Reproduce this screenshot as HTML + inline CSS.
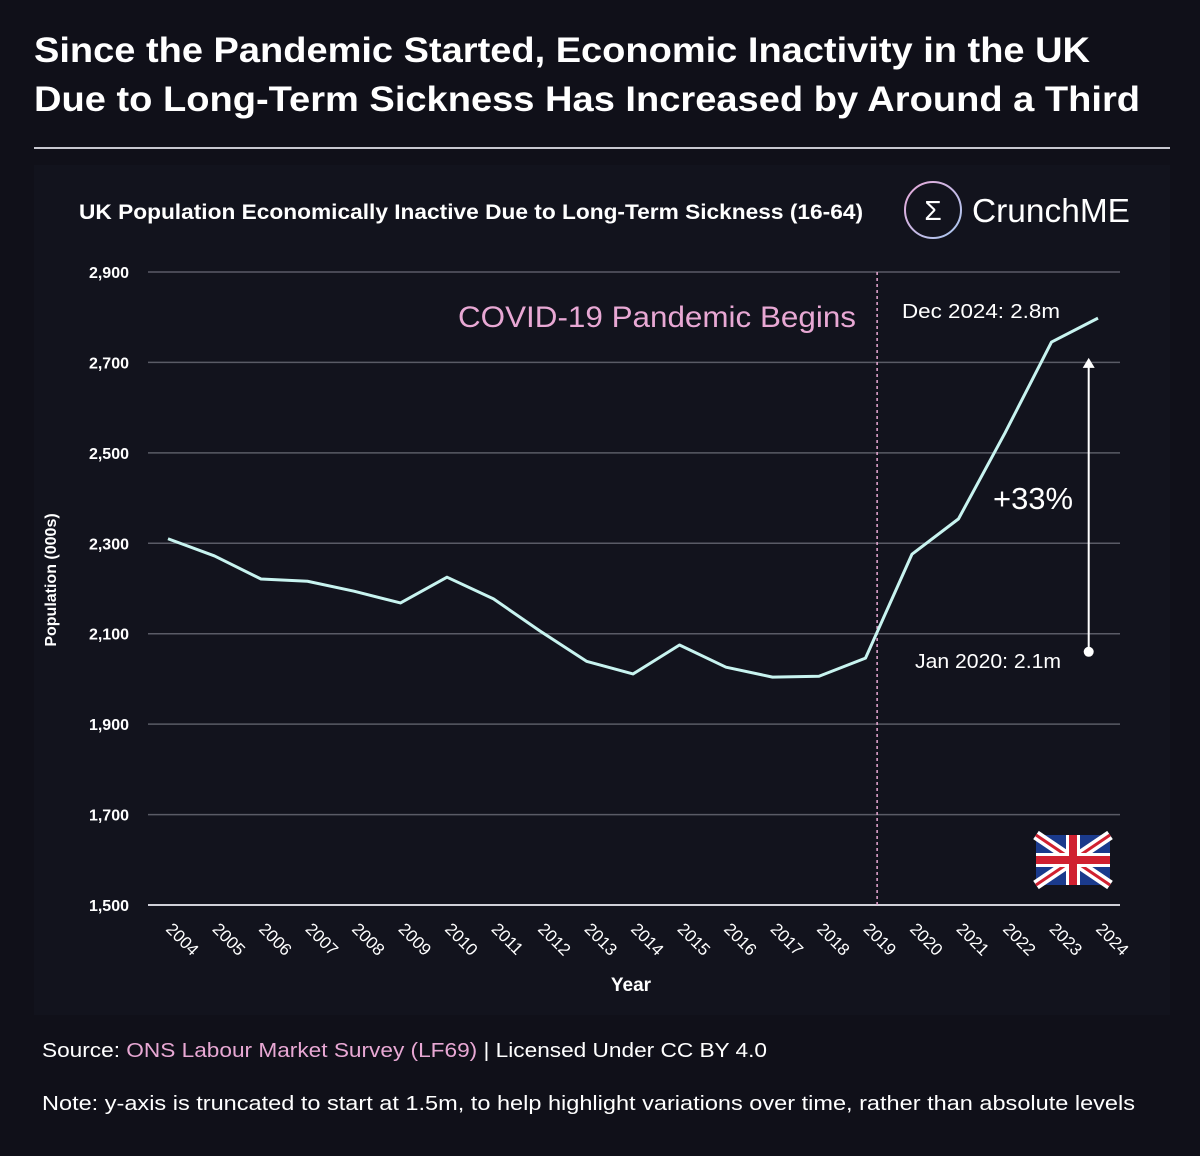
<!DOCTYPE html>
<html><head><meta charset="utf-8">
<style>
body{margin:0;background:#101019;width:1200px;height:1151px;overflow:hidden;font-family:"Liberation Sans","DejaVu Sans",sans-serif;}
</style></head>
<body>
<svg id="chart" width="1200" height="1151" viewBox="0 0 1200 1151" xmlns="http://www.w3.org/2000/svg">
<rect x="0" y="0" width="1200" height="1151" fill="#101019"/>
<rect x="34" y="165" width="1136" height="850" fill="#12131d"/>
<text x="34" y="62" fill="#ffffff" font-size="35" font-weight="bold" textLength="1056" lengthAdjust="spacingAndGlyphs">Since the Pandemic Started, Economic Inactivity in the UK</text>
<text x="34" y="111" fill="#ffffff" font-size="35" font-weight="bold" textLength="1106" lengthAdjust="spacingAndGlyphs">Due to Long-Term Sickness Has Increased by Around a Third</text>
<line x1="34" y1="148" x2="1170" y2="148" stroke="#c8c8d0" stroke-width="2"/>
<text x="79" y="219" fill="#ffffff" font-size="21" font-weight="bold" textLength="784" lengthAdjust="spacingAndGlyphs">UK Population Economically Inactive Due to Long-Term Sickness (16-64)</text>
<g>
<defs><linearGradient id="lg" x1="0" y1="0" x2="1" y2="1"><stop offset="0" stop-color="#e8a8d8"/><stop offset="1" stop-color="#a8c8f0"/></linearGradient></defs>
<circle cx="933" cy="210" r="28" fill="none" stroke="url(#lg)" stroke-width="2"/>
<text x="933" y="220" fill="#ffffff" font-size="28" text-anchor="middle">Σ</text>
<text x="972" y="222" fill="#ffffff" font-size="33" textLength="158" lengthAdjust="spacingAndGlyphs">CrunchME</text>
</g>
<g id="grid"></g>
<g id="marks"></g>
<text x="631" y="991" fill="#ffffff" font-size="19" font-weight="bold" text-anchor="middle">Year</text>
<text transform="translate(56,580) rotate(-90)" fill="#ffffff" font-size="16" font-weight="bold" text-anchor="middle">Population (000s)</text>
<text x="458" y="327" fill="#e8a8d4" font-size="30" textLength="398" lengthAdjust="spacingAndGlyphs">COVID-19 Pandemic Begins</text>
<text x="902" y="318" fill="#ffffff" font-size="20" textLength="158" lengthAdjust="spacingAndGlyphs">Dec 2024: 2.8m</text>
<text x="915" y="668" fill="#ffffff" font-size="20" textLength="146" lengthAdjust="spacingAndGlyphs">Jan 2020: 2.1m</text>
<text x="993" y="509" fill="#ffffff" font-size="31" textLength="80" lengthAdjust="spacingAndGlyphs">+33%</text>
<g transform="translate(1036,835)">
<rect width="74" height="50" fill="#1a3a8c"/>
<path d="M0 0L74 50M74 0L0 50" stroke="#fff" stroke-width="10"/>
<path d="M0 0L74 50M74 0L0 50" stroke="#d02030" stroke-width="3"/>
<path d="M37 0V50M0 25H74" stroke="#fff" stroke-width="14"/>
<path d="M37 0V50M0 25H74" stroke="#d02030" stroke-width="8"/>
</g>
<text x="42" y="1057" fill="#ffffff" font-size="20" textLength="725" lengthAdjust="spacingAndGlyphs">Source: <tspan fill="#e8a8d4">ONS Labour Market Survey (LF69)</tspan> | Licensed Under CC BY 4.0</text>
<text x="42" y="1110" fill="#ffffff" font-size="20" textLength="1093" lengthAdjust="spacingAndGlyphs">Note: y-axis is truncated to start at 1.5m, to help highlight variations over time, rather than absolute levels</text>
</svg>
<script>
const years=[2004,2005,2006,2007,2008,2009,2010,2011,2012,2013,2014,2015,2016,2017,2018,2019,2020,2021,2022,2023,2024];
const values=[2310,2272,2221,2216,2194,2168,2225,2177,2106,2039,2011,2075,2026,2004,2006,2046,2276,2354,2544,2745,2798];
const yTicks=[1500,1700,1900,2100,2300,2500,2700,2900];
const yTickLabels=["1,500","1,700","1,900","2,100","2,300","2,500","2,700","2,900"];
const covidYear=2019.25;
const arrowFrom=2060, arrowTo=2710, arrowYear=2023.8;
const NS="http://www.w3.org/2000/svg";
function X(yr){return 168+(yr-2004)*46.5;}
function Y(v){return 905-(v-1500)*(633/1400);}
function mk(t,a,p){const e=document.createElementNS(NS,t);for(const k in a)e.setAttribute(k,a[k]);p.appendChild(e);return e;}
const grid=document.getElementById('grid'),marks=document.getElementById('marks');
yTicks.forEach((v,i)=>{
 const l=mk('line',{x1:148,x2:1120,y1:Y(v),y2:Y(v),stroke:i==0?'#d0d0d8':'#5a5b66','stroke-width':i==0?2:1.5},grid);
 
 
 const t=mk('text',{x:129,y:Y(v)+6,fill:'#fff','font-size':16,'font-weight':'bold','text-anchor':'end'},grid);
 t.textContent=yTickLabels[i];
 
 
});
years.forEach(yr=>{
 const t=mk('text',{transform:`translate(${X(yr)-3},930) rotate(45)`,fill:'#fff','font-size':17},grid);
 t.textContent=yr;
 
 
});
const vl=mk('line',{x1:X(covidYear),x2:X(covidYear),y1:272,y2:905,stroke:'#e8a8d4','stroke-width':1.5,'stroke-dasharray':'3,3'},marks);


const pl=mk('polyline',{points:years.map((y,i)=>X(y)+','+Y(values[i])).join(' '),fill:'none',stroke:'#c8f4f0','stroke-width':3,'stroke-linejoin':'round'},marks);


const ax=X(arrowYear);
const al=mk('line',{x1:ax,x2:ax,y1:Y(arrowFrom),y2:Y(arrowTo)+6,stroke:'#fff','stroke-width':2},marks);


const ah=mk('path',{d:`M${ax-6} ${Y(arrowTo)+10}L${ax} ${Y(arrowTo)}L${ax+6} ${Y(arrowTo)+10}Z`,fill:'#fff'},marks);


const dot=mk('circle',{cx:ax,cy:Y(arrowFrom),r:5,fill:'#fff'},marks);


</script>
</body></html>
